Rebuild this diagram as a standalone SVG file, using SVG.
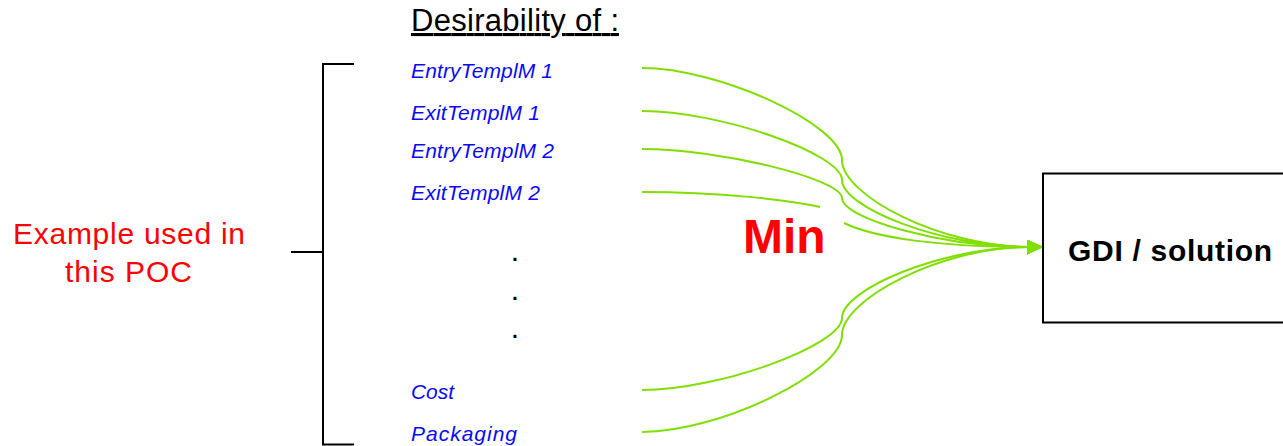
<svg xmlns="http://www.w3.org/2000/svg" width="1283" height="446" viewBox="0 0 1283 446">
<style>
.lbl{font-family:"Liberation Sans",Arial,sans-serif;font-style:italic;font-size:21px;fill:#0A0AF5}
.dot{font-family:"Liberation Sans",Arial,sans-serif;font-size:30px;fill:#000}
.red{font-family:"Liberation Sans",Arial,sans-serif;fill:#FF0000}
.conn{fill:none;stroke:#80DF00;stroke-width:2}
.blk{fill:none;stroke:#000;stroke-width:2}
</style>
<defs>
<marker id="arr" markerUnits="userSpaceOnUse" markerWidth="18" markerHeight="16" refX="3" refY="7.5" orient="auto">
<path d="M0,0 L16,7.5 L0,15 Z" fill="#80DF00"/>
</marker>
</defs>
<text x="411" y="31" font-family="Liberation Sans, Arial, sans-serif" font-size="31" text-decoration="underline" fill="#000" textLength="208" lengthAdjust="spacing">Desirability of :</text>
<g id="bracket">
<path class="blk" d="M354,64 H323 V444.5 H354 M291,252 H323"/>
</g>
<g id="example">
<text class="red" x="13" y="244" font-size="30" textLength="232" lengthAdjust="spacing">Example used in</text>
<text class="red" x="65" y="282" font-size="30" textLength="127" lengthAdjust="spacing">this POC</text>
</g>
<g id="items">
<g id="n-entry1"><text class="lbl" x="411" y="78" textLength="142" lengthAdjust="spacing">EntryTemplM 1</text></g>
<g id="n-exit1"><text class="lbl" x="411" y="120" textLength="129" lengthAdjust="spacing">ExitTemplM 1</text></g>
<g id="n-entry2"><text class="lbl" x="411" y="158" textLength="143" lengthAdjust="spacing">EntryTemplM 2</text></g>
<g id="n-exit2"><text class="lbl" x="411" y="200" textLength="129" lengthAdjust="spacing">ExitTemplM 2</text></g>
<g id="n-dots">
<text class="dot" x="515" y="261" text-anchor="middle">.</text>
<text class="dot" x="515" y="300" text-anchor="middle">.</text>
<text class="dot" x="515" y="338" text-anchor="middle">.</text>
</g>
<g id="n-cost"><text class="lbl" x="411" y="399" textLength="43" lengthAdjust="spacing">Cost</text></g>
<g id="n-packaging"><text class="lbl" x="411" y="441" textLength="106" lengthAdjust="spacing">Packaging</text></g>
</g>
<g id="connectors">
<path class="conn" marker-end="url(#arr)" d="M642,68 C720,68 842,125 842,160 C842,195 940,247 1030,247"/>
<path class="conn" marker-end="url(#arr)" d="M642,111 C720,111 842,154 842,180 C842,207 940,247 1030,247"/>
<path class="conn" marker-end="url(#arr)" d="M642,149 C720,149 842,179 842,198 C842,218 940,247 1030,247"/>
<path class="conn" marker-end="url(#arr)" d="M642,192 C720,192 790,200 820,207 M844,223 C875,238 940,247 1030,247"/>
<path class="conn" marker-end="url(#arr)" d="M642,390 C720,390 842,345 842,318 C842,290 940,247 1030,247"/>
<path class="conn" marker-end="url(#arr)" d="M642,432 C720,432 842,372 842,335 C842,300 940,247 1030,247"/>
</g>
<text class="red" x="743" y="253" font-size="48" font-weight="bold">Min</text>
<g id="n-gdi">
<rect x="1043" y="173.5" width="260" height="149" class="blk" fill="#fff"/>
<text x="1068" y="261" font-family="Liberation Sans, Arial, sans-serif" font-size="30" font-weight="bold" fill="#000" textLength="204" lengthAdjust="spacing">GDI / solution</text>
</g>
</svg>
